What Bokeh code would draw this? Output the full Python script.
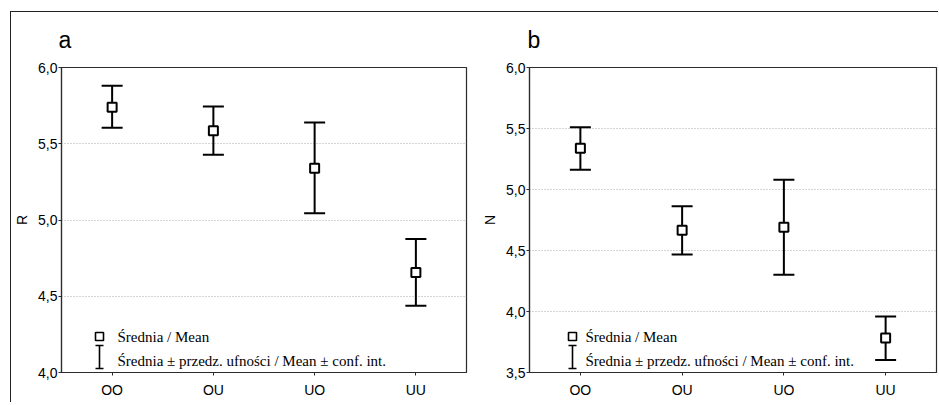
from bokeh.plotting import figure
from bokeh.layouts import row
from bokeh.models import (ColumnDataSource, Whisker, TeeHead, FactorRange, Range1d,
                          FixedTicker, CustomJSTickFormatter, Label, PolyAnnotation)
from bokeh.embed import file_html
from bokeh.resources import INLINE

categories = ["OO", "OU", "UO", "UU"]

r_mean = [5.74, 5.585, 5.34, 4.655]
r_upper = [5.88, 5.745, 5.64, 4.875]
r_lower = [5.605, 5.428, 5.044, 4.437]

n_mean = [5.338, 4.666, 4.69, 3.783]
n_upper = [5.51, 4.862, 5.08, 3.958]
n_lower = [5.161, 4.467, 4.301, 3.603]

r_ticks = [4.0, 4.5, 5.0, 5.5, 6.0]
n_ticks = [3.5, 4.0, 4.5, 5.0, 5.5, 6.0]

legend_mean = "Średnia / Mean"
legend_ci = "Średnia ± przedz. ufności / Mean ± conf. int."

SANS = "Liberation Sans"
SERIF = "Liberation Serif"
DARK = "#2b2b2b"


def make_panel(letter, ylabel, mean, lo, hi, ticks, width, border_left, border_right,
               frame_h, border_top, border_bottom, icon_dx, letter_dx):
    p = figure(x_range=FactorRange(*categories, range_padding=0),
               y_range=Range1d(ticks[0], ticks[-1]),
               width=width, height=border_top + frame_h + border_bottom,
               min_border_left=border_left, min_border_right=border_right,
               min_border_top=border_top, min_border_bottom=border_bottom,
               output_backend="svg", toolbar_location=None)
    p.outline_line_color = DARK
    p.outline_line_width = 1.2
    p.background_fill_color = "white"
    p.border_fill_color = "white"

    # panel letter
    p.title.text = letter
    p.title.text_font = SANS
    p.title.text_font_size = "23px"
    p.title.text_font_style = "normal"
    p.title.text_color = "black"
    p.title.align = "left"
    p.title.vertical_align = "top"
    p.title.offset = letter_dx
    p.title.standoff = 25

    p.yaxis.ticker = FixedTicker(ticks=ticks)
    p.yaxis.formatter = CustomJSTickFormatter(code="return tick.toFixed(1).replace('.', ',');")
    p.yaxis.axis_label = ylabel
    p.yaxis.axis_label_text_font = SANS
    p.yaxis.axis_label_text_font_size = "14px"
    p.yaxis.axis_label_text_font_style = "normal"
    p.yaxis.axis_label_text_color = "black"
    p.yaxis.axis_label_standoff = 5
    for ax in (p.xaxis[0], p.yaxis[0]):
        ax.major_label_text_font = SANS
        ax.major_label_text_color = "black"
        ax.axis_line_color = DARK
        ax.axis_line_width = 1.2
        ax.major_tick_line_color = DARK
        ax.major_tick_out = 3
        ax.major_tick_in = 0
        ax.minor_tick_line_color = None
    p.yaxis.major_label_standoff = 1
    p.yaxis.major_label_text_font_size = "14px"
    p.xaxis.major_label_text_font_size = "14px"
    p.xaxis.major_label_standoff = 6

    p.xgrid.grid_line_color = None
    p.ygrid.ticker = FixedTicker(ticks=ticks)
    p.ygrid.grid_line_color = "#a8a8a8"
    p.ygrid.grid_line_dash = "1 2"
    p.ygrid.grid_line_width = 1

    src = ColumnDataSource(dict(cat=categories, mean=mean, lo=lo, hi=hi))
    w = Whisker(base="cat", upper="hi", lower="lo", source=src,
                line_color="black", line_width=2, level="underlay",
                upper_head=TeeHead(size=21, line_color="black", line_width=2),
                lower_head=TeeHead(size=21, line_color="black", line_width=2))
    p.add_layout(w)
    p.scatter("cat", "mean", source=src, marker="square", size=9,
              fill_color="white", line_color="black", line_width=2)

    # legend drawn in screen space inside the frame (bottom-left)
    sq = 4
    p.add_layout(PolyAnnotation(xs=[icon_dx - sq, icon_dx + sq, icon_dx + sq, icon_dx - sq],
                                ys=[36 - sq, 36 - sq, 36 + sq, 36 + sq],
                                xs_units="screen", ys_units="screen",
                                fill_color="white", fill_alpha=1,
                                line_color="black", line_alpha=1, line_width=1.6))
    cw = 4
    ytop, ybot = 27, 4
    p.add_layout(PolyAnnotation(xs=[icon_dx - cw, icon_dx + cw, icon_dx, icon_dx,
                                    icon_dx + cw, icon_dx - cw, icon_dx, icon_dx],
                                ys=[ytop, ytop, ytop, ybot, ybot, ybot, ybot, ytop],
                                xs_units="screen", ys_units="screen",
                                fill_alpha=0, line_color="black", line_alpha=1,
                                line_width=1.6))
    for txt, yy in ((legend_mean, 36), (legend_ci, 12)):
        p.add_layout(Label(x=56, y=yy, x_units="screen", y_units="screen", text=txt,
                           text_font=SERIF, text_font_size="15px",
                           text_baseline="middle", text_color="black"))
    return p


pa = make_panel("a", "R", r_mean, r_lower, r_upper, r_ticks,
                width=459, border_left=49, border_right=4,
                frame_h=305, border_top=55, border_bottom=30, icon_dx=38, letter_dx=-3)
pb = make_panel("b", "N", n_mean, n_lower, n_upper, n_ticks,
                width=468, border_left=59, border_right=2,
                frame_h=306, border_top=54, border_bottom=30, icon_dx=43, letter_dx=-2)

layout = row(pa, pb, margin=(11, 0, 0, 10),
             styles={"border-top": "1px solid #222", "border-left": "1px solid #222"})

open("out.html", "w").write(file_html(layout, INLINE))
